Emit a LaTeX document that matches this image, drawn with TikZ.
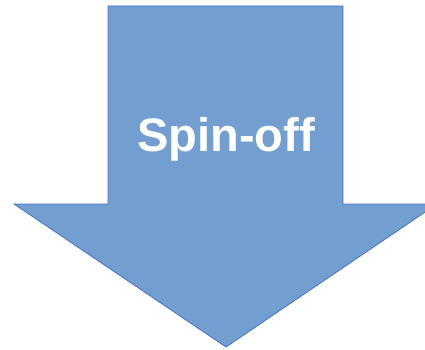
\documentclass[tikz,border=0pt]{standalone}
\usepackage{fontspec}
\setmainfont{Liberation Sans}
\usetikzlibrary{positioning}
\definecolor{arrowfill}{RGB}{114,159,207}
\definecolor{arrowline}{RGB}{68,114,196}
\tikzset{
  bigarrow/.style={fill=arrowfill, draw=arrowline, line width=0.8pt, line join=miter},
  arrowlabel/.style={text=white, font=\bfseries\fontsize{47}{47}\selectfont, inner sep=0pt, anchor=base},
  every picture/.style={line cap=round, line join=round}
}
\begin{document}
\begin{tikzpicture}[x=1pt,y=-1pt]
  \useasboundingbox (0,0) rectangle (425,350);
  \begin{scope}
    \clip (0,0) rectangle (425,350);
    % arrow pointing down
    \draw[bigarrow] (108,6) -- (343,6) -- (343,204) -- (437,204)
      -- (226,347) -- (14,204) -- (108,204) -- cycle;
  \end{scope}
  \node[arrowlabel] (spin) at (226,151) {Spin-off};
\end{tikzpicture}
\end{document}
